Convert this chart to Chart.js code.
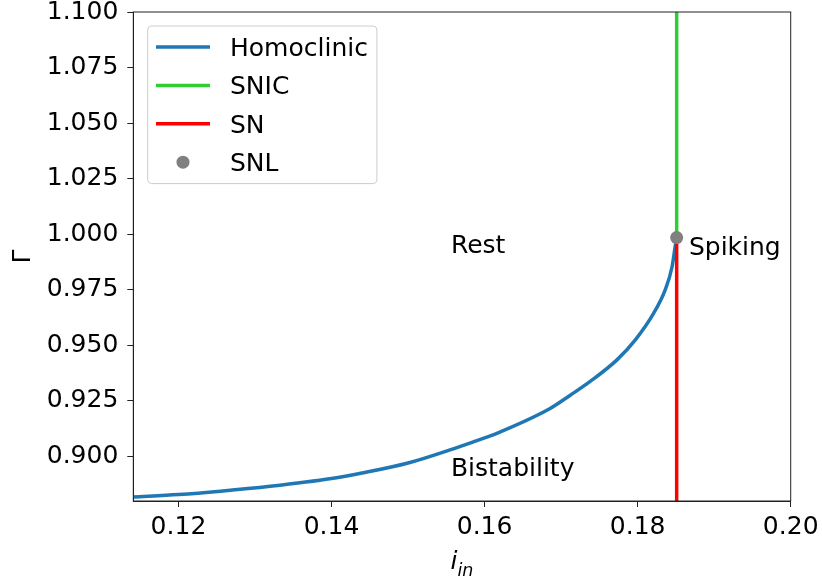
<!DOCTYPE html>
<html>
<head>
<meta charset="utf-8">
<script src="https://cdn.jsdelivr.net/npm/chart.js@4/dist/chart.umd.min.js"></script>
<style>
  html, body { margin: 0; padding: 0; background: #fff; }
  #wrap { width: 822px; height: 581px; }
</style>
</head>
<body>
<div id="wrap"><canvas id="bif" width="822" height="581"></canvas></div>
<script>
// homoclinic branch (i_in, Gamma)
const homX = [0.1141, 0.1200, 0.1255, 0.1320, 0.1400, 0.1440, 0.1500, 0.1560, 0.1601, 0.1620,
              0.1685, 0.1712, 0.1738, 0.1773, 0.1797, 0.1821, 0.1836, 0.1845, 0.1849, 0.1851];
const homG = [0.8818, 0.8829, 0.8844, 0.8866, 0.8901, 0.8926, 0.8971, 0.9036, 0.9085, 0.9110,
              0.9215, 0.9276, 0.9338, 0.9435, 0.9525, 0.9645, 0.9750, 0.9854, 0.9944, 0.9985];

// saddle-node on limit cycle point, SNIC / SN lines sit at the same i_in
const snlX = 0.1851;
const snlG = 0.9985;

const xMin = 0.1141, xMax = 0.20;
const yMin = 0.880, yMax = 1.100;
const xTicks = [0.12, 0.14, 0.16, 0.18, 0.20];
const yTicks = [0.900, 0.925, 0.950, 0.975, 1.000, 1.025, 1.050, 1.075, 1.100];

// region labels
const regionText = ['Rest', 'Bistability', 'Spiking'];
const regionX = [0.1556, 0.1556, 0.1867];
const regionG = [0.9915, 0.8913, 0.9907];

const FONT = '"DejaVu Sans", "Noto Sans", sans-serif';
const FS = 25;

function toPoints(xs, ys) {
    let pts = [];
    for (let i = 0; i < xs.length; i++)
        pts.push({x: xs[i], y: ys[i]});
    return pts;
}

const extras = {
    id: 'extras',
    afterDraw(chart) {
        const ctx = chart.ctx;
        const a = chart.chartArea;
        const xs = chart.scales.x, ys = chart.scales.y;
        ctx.save();

        // full box around the axes
        ctx.strokeStyle = '#222';
        ctx.lineWidth = 1;
        ctx.strokeRect(a.left, a.top, a.right - a.left, a.bottom - a.top);

        // region labels
        ctx.fillStyle = '#000';
        ctx.font = FS + 'px ' + FONT;
        ctx.textAlign = 'left';
        ctx.textBaseline = 'alphabetic';
        for (let i = 0; i < regionText.length; i++)
            ctx.fillText(regionText[i], xs.getPixelForValue(regionX[i]), ys.getPixelForValue(regionG[i]));

        // x axis title: i with subscript "in"
        const main = 'italic ' + FS + 'px ' + FONT;
        const sub = 'italic ' + (FS * 0.7) + 'px ' + FONT;
        ctx.font = main;
        const w1 = ctx.measureText('i').width;
        ctx.font = sub;
        const w2 = ctx.measureText('in').width;
        const x0 = (a.left + a.right) / 2 - (w1 + w2) / 2;
        ctx.font = main;
        ctx.fillText('i', x0, 569);
        ctx.font = sub;
        ctx.fillText('in', x0 + w1, 576);

        // legend box
        ctx.font = FS + 'px ' + FONT;
        const ds = chart.data.datasets;
        let maxW = 0;
        ds.forEach(d => { maxW = Math.max(maxW, ctx.measureText(d.label).width); });
        const bx = a.left + 14.4, by = a.top + 14;
        const bw = 8.3 + 54 + 20 + maxW + 9;
        const bh = 157.6;
        ctx.beginPath();
        ctx.roundRect(bx, by, bw, bh, 4);
        ctx.fillStyle = 'rgba(255,255,255,0.8)';
        ctx.fill();
        ctx.strokeStyle = '#cccccc';
        ctx.lineWidth = 1;
        ctx.stroke();

        ds.forEach((d, i) => {
            const cy = by + 21 + i * 38.4;
            const hx = bx + 8.3;
            if (d.showLine) {
                ctx.strokeStyle = d.borderColor;
                ctx.lineWidth = d.borderWidth;
                ctx.beginPath();
                ctx.moveTo(hx, cy);
                ctx.lineTo(hx + 54, cy);
                ctx.stroke();
            } else {
                ctx.fillStyle = d.pointBackgroundColor;
                ctx.beginPath();
                ctx.arc(hx + 27, cy, d.pointRadius, 0, Math.PI * 2);
                ctx.fill();
            }
            ctx.fillStyle = '#000';
            ctx.fillText(d.label, hx + 54 + 20, cy + 9);
        });
        ctx.restore();
    }
};

const data = {
    datasets: [{
        label: 'Homoclinic',
        data: toPoints(homX, homG),
        showLine: true,
        borderColor: '#1f77b4',
        borderWidth: 3.5,
        pointRadius: 0,
        cubicInterpolationMode: 'monotone',
        order: 3
    }, {
        label: 'SNIC',
        data: [{x: snlX, y: snlG}, {x: snlX, y: yMax}],
        showLine: true,
        borderColor: '#32cd32',
        borderWidth: 3.5,
        pointRadius: 0,
        order: 2
    }, {
        label: 'SN',
        data: [{x: snlX, y: snlG}, {x: snlX, y: yMin}],
        showLine: true,
        borderColor: '#ff0000',
        borderWidth: 3.5,
        pointRadius: 0,
        order: 1
    }, {
        label: 'SNL',
        data: [{x: snlX, y: snlG}],
        showLine: false,
        pointRadius: 6.5,
        pointBackgroundColor: '#808080',
        pointBorderWidth: 0,
        order: 0
    }]
};

const config = {
    type: 'scatter',
    data: data,
    plugins: [extras],
    options: {
        responsive: false,
        animation: false,
        events: [],
        layout: { padding: { top: 12, right: 31.3, bottom: 0, left: 0 } },
        plugins: { legend: { display: false }, tooltip: { enabled: false } },
        scales: {
            x: {
                type: 'linear',
                min: xMin,
                max: xMax,
                afterBuildTicks: s => { s.ticks = xTicks.map(v => ({value: v})); },
                afterFit: s => { s.height = 80; s.paddingLeft = 0; s.paddingRight = 0; },
                grid: { drawOnChartArea: false, drawTicks: true, tickLength: 6, color: '#222' },
                border: { display: true, color: '#222', width: 1 },
                ticks: {
                    padding: 5,
                    color: '#000',
                    font: { family: FONT, size: FS },
                    maxRotation: 0,
                    callback: v => v.toFixed(2)
                }
            },
            y: {
                type: 'linear',
                min: yMin,
                max: yMax,
                afterBuildTicks: s => { s.ticks = yTicks.map(v => ({value: v})); },
                afterFit: s => { s.width = 133.3; s.paddingTop = 0; s.paddingBottom = 0; },
                grid: { drawOnChartArea: false, drawTicks: true, tickLength: 6, color: '#222' },
                border: { display: true, color: '#222', width: 1 },
                title: {
                    display: true,
                    text: 'Γ',
                    color: '#000',
                    font: { family: FONT, size: FS },
                    padding: { top: 8, bottom: 0 }
                },
                ticks: {
                    padding: 9,
                    color: '#000',
                    font: { family: FONT, size: FS },
                    callback: v => v.toFixed(3)
                }
            }
        }
    }
};

new Chart(document.getElementById('bif').getContext('2d'), config);
</script>
</body>
</html>
